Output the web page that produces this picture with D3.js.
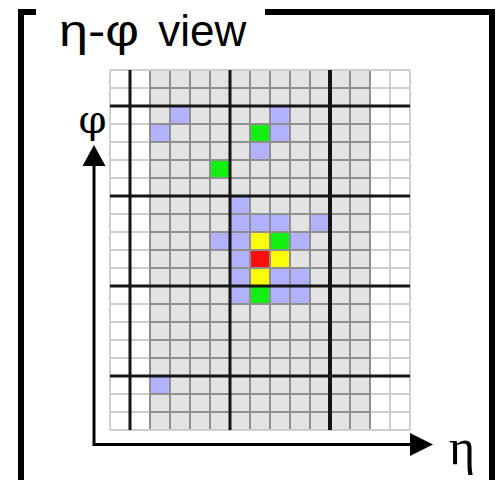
<!DOCTYPE html>
<html>
<head>
<meta charset="utf-8">
<script src="https://cdn.jsdelivr.net/npm/d3@7"></script>
<style>
html,body{margin:0;padding:0;background:#fff;}
svg{display:block;}
</style>
</head>
<body>
<svg id="chart" width="496" height="480"></svg>
<script>
// ---- data ----
const etaBins = d3.range(15);          // η columns
const phiBins = d3.range(20);          // φ rows (top to bottom)
const activeEta = [2, 12];             // shaded (active) η range
const thickEta = [1, 6, 11];           // η boundaries drawn bold
const thickPhi = [2, 7, 12, 17];       // φ boundaries drawn bold
const hitEta =   [3, 8, 2, 7, 8, 7, 5, 6, 6, 7, 8, 10, 5, 6, 7, 8, 9, 6, 7, 8, 6, 7, 8, 9, 6, 7, 8, 9, 2];
const hitPhi =   [2, 2, 3, 3, 3, 4, 5, 7, 8, 8, 8, 8, 9, 9, 9, 9, 9, 10, 10, 10, 11, 11, 11, 11, 12, 12, 12, 12, 17];
const hitLevel = ["low","low","low","mid","low","low","mid","low","low","low","low","low",
                  "low","low","high","mid","low","low","max","high","low","high","low","low",
                  "low","mid","low","low","low"];
const levels = ["low", "mid", "high", "max"];
const levelColors = ["#b1b1fd", "#12f012", "#fbfb0a", "#f81010"];
const titleParts = ["η-φ", " view"];
const xLabel = "η";
const yLabel = "φ";

// ---- drawing ----
const svg = d3.select("#chart");
const x = d3.scaleBand().domain(etaBins).range([110, 410]);
const y = d3.scaleBand().domain(phiBins).range([70, 430]);
const color = d3.scaleOrdinal().domain(levels).range(levelColors);
const edgeX = i => 110 + i * x.step();
const edgeY = i => 70 + i * y.step();

// base cells
const cells = [];
phiBins.forEach(p => etaBins.forEach(e => cells.push({e, p})));
const isActive = e => e >= activeEta[0] && e <= activeEta[1];
svg.append("g").selectAll("rect").data(cells).join("rect")
  .attr("x", d => x(d.e)).attr("y", d => y(d.p))
  .attr("width", x.bandwidth()).attr("height", y.bandwidth())
  .attr("fill", d => isActive(d.e) ? "#e3e3e3" : "#ffffff");

// hits
const hits = hitEta.map((e, i) => ({e, p: hitPhi[i], l: hitLevel[i]}));
svg.append("g").selectAll("rect").data(hits).join("rect")
  .attr("x", d => x(d.e)).attr("y", d => y(d.p))
  .attr("width", x.bandwidth()).attr("height", y.bandwidth())
  .attr("fill", d => color(d.l));

// thin grid lines
const gThin = svg.append("g");
d3.range(16).forEach(i => {
  const xx = edgeX(i);
  const inner = i >= activeEta[0] && i <= activeEta[1] + 1;
  gThin.append("line").attr("x1", xx).attr("x2", xx).attr("y1", 70).attr("y2", 430)
    .attr("stroke", inner ? "#8f8f8f" : "#cfcfcf").attr("stroke-width", 2);
});
d3.range(21).forEach(j => {
  const yy = edgeY(j);
  gThin.append("line").attr("x1", 110).attr("x2", 410).attr("y1", yy).attr("y2", yy)
    .attr("stroke", "#cfcfcf").attr("stroke-width", 2);
  if (j > 0 && j < 20)
    gThin.append("line").attr("x1", edgeX(activeEta[0])).attr("x2", edgeX(activeEta[1] + 1))
      .attr("y1", yy).attr("y2", yy).attr("stroke", "#8f8f8f").attr("stroke-width", 2);
});
d3.range(activeEta[0], activeEta[1] + 2).forEach(i => {
  gThin.append("line").attr("x1", edgeX(i)).attr("x2", edgeX(i)).attr("y1", 71).attr("y2", 429)
    .attr("stroke", "#8f8f8f").attr("stroke-width", 2);
});

// thick lines
const gThick = svg.append("g").attr("stroke", "#151515");
thickEta.forEach(i => gThick.append("line").attr("x1", edgeX(i)).attr("x2", edgeX(i))
  .attr("y1", 70).attr("y2", 430).attr("stroke-width", i === 11 ? 4 : 3));
thickPhi.forEach(j => gThick.append("line").attr("x1", 110).attr("x2", 410)
  .attr("y1", edgeY(j)).attr("y2", edgeY(j)).attr("stroke-width", 3));

// axes arrows
const ax = svg.append("g");
ax.append("path").attr("d", "M94,165 L94,444.5 L410,444.5")
  .attr("fill", "none").attr("stroke", "#000").attr("stroke-width", 3);
ax.append("path").attr("d", "M94,145 L82.5,166 L105.5,166 Z").attr("fill", "#000");
ax.append("path").attr("d", "M433,444.5 L410,433 L410,456 Z").attr("fill", "#000");
ax.append("text").attr("x", 92.5).attr("y", 133).attr("text-anchor", "middle")
  .attr("font-family", "DejaVu Serif, serif").attr("font-size", 40).text(yLabel);
ax.append("text").attr("x", 462).attr("y", 464).attr("text-anchor", "middle")
  .attr("font-family", "Liberation Serif, serif").attr("font-size", 50).text(xLabel);

// frame
svg.append("path").attr("d", "M36,12 L21,12 L21,480 M265,12 L492,12 L492,480")
  .attr("fill", "none").attr("stroke", "#000").attr("stroke-width", 6);
const t = svg.append("text").attr("y", 46)
  .attr("font-family", "Liberation Sans, Arial, sans-serif").attr("font-size", 44)
  .attr("xml:space", "preserve").style("white-space", "pre");
t.append("tspan").attr("x", 59).attr("textLength", 80)
  .attr("lengthAdjust", "spacingAndGlyphs").text(titleParts[0]);
t.append("tspan").attr("x", 146).text(titleParts[1]);
</script>
</body>
</html>
